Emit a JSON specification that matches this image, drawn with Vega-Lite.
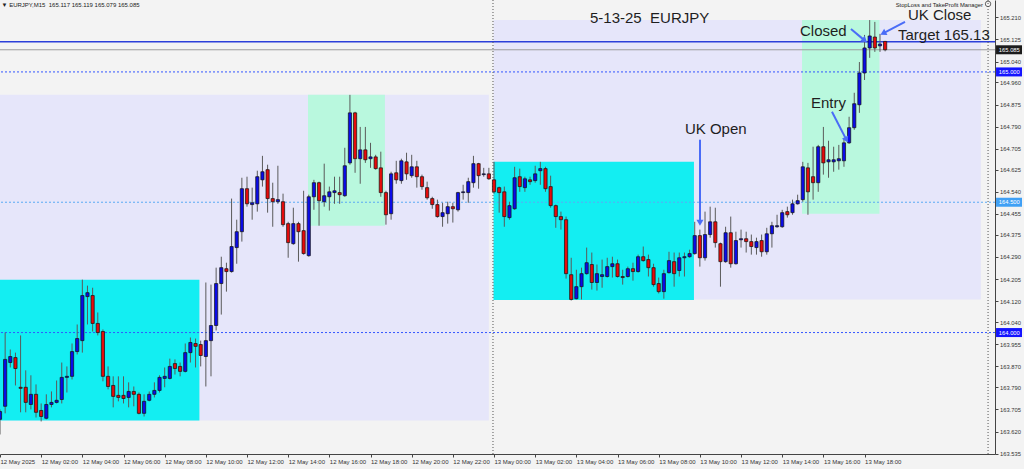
{
"$schema":"https://vega.github.io/schema/vega-lite/v6.json",
"width":995,"height":454,
"autosize":{"type":"none"},
"padding":{"left":0,"top":0,"right":29,"bottom":15},
"background":"#f3f3f3",
"config":{"view":{"stroke":null},"font":"Liberation Sans","scale":{"continuousPadding":0}},
"datasets":{
"zones":[
{"kind":"day","start":0,"end":95,"top":164.912,"bottom":163.663},
{"kind":"day","start":95.9,"end":190.6,"top":165.199,"bottom":164.127},
{"kind":"asia","start":0,"end":38.75,"top":164.203,"bottom":163.663},
{"kind":"asia","start":95.9,"end":134.85,"top":164.655,"bottom":164.125},
{"kind":"ny","start":59.85,"end":74.8,"top":164.912,"bottom":164.410},
{"kind":"ny","start":155.85,"end":170.9,"top":165.199,"bottom":164.456}
],
"candles":[
{"i":0,"o":163.667,"h":163.705,"l":163.609,"c":163.697},
{"i":1,"o":163.717,"h":164.000,"l":163.690,"c":163.897},
{"i":2,"o":163.885,"h":163.935,"l":163.866,"c":163.908},
{"i":3,"o":163.904,"h":163.923,"l":163.797,"c":163.862},
{"i":4,"o":163.790,"h":163.989,"l":163.694,"c":163.786},
{"i":5,"o":163.790,"h":163.855,"l":163.694,"c":163.732},
{"i":6,"o":163.724,"h":163.836,"l":163.705,"c":163.763},
{"i":7,"o":163.763,"h":163.801,"l":163.674,"c":163.694},
{"i":8,"o":163.701,"h":163.728,"l":163.659,"c":163.678},
{"i":9,"o":163.671,"h":163.763,"l":163.667,"c":163.724},
{"i":10,"o":163.724,"h":163.774,"l":163.713,"c":163.732},
{"i":11,"o":163.732,"h":163.816,"l":163.728,"c":163.740},
{"i":12,"o":163.743,"h":163.885,"l":163.728,"c":163.828},
{"i":13,"o":163.828,"h":163.870,"l":163.770,"c":163.832},
{"i":14,"o":163.832,"h":163.958,"l":163.820,"c":163.927},
{"i":15,"o":163.927,"h":164.031,"l":163.916,"c":163.977},
{"i":16,"o":163.969,"h":164.203,"l":163.923,"c":164.142},
{"i":17,"o":164.138,"h":164.180,"l":164.031,"c":164.153},
{"i":18,"o":164.142,"h":164.172,"l":164.004,"c":164.035},
{"i":19,"o":164.035,"h":164.077,"l":163.989,"c":164.000},
{"i":20,"o":164.004,"h":164.012,"l":163.813,"c":163.832},
{"i":21,"o":163.832,"h":163.870,"l":163.782,"c":163.793},
{"i":22,"o":163.797,"h":163.832,"l":163.713,"c":163.755},
{"i":23,"o":163.759,"h":163.832,"l":163.736,"c":163.751},
{"i":24,"o":163.759,"h":163.832,"l":163.728,"c":163.747},
{"i":25,"o":163.751,"h":163.809,"l":163.713,"c":163.774},
{"i":26,"o":163.774,"h":163.793,"l":163.717,"c":163.763},
{"i":27,"o":163.763,"h":163.770,"l":163.686,"c":163.690},
{"i":28,"o":163.690,"h":163.763,"l":163.678,"c":163.736},
{"i":29,"o":163.740,"h":163.774,"l":163.736,"c":163.763},
{"i":30,"o":163.763,"h":163.809,"l":163.751,"c":163.778},
{"i":31,"o":163.778,"h":163.836,"l":163.770,"c":163.828},
{"i":32,"o":163.824,"h":163.866,"l":163.790,"c":163.832},
{"i":33,"o":163.824,"h":163.900,"l":163.820,"c":163.870},
{"i":34,"o":163.881,"h":163.897,"l":163.839,"c":163.862},
{"i":35,"o":163.870,"h":163.885,"l":163.832,"c":163.851},
{"i":36,"o":163.851,"h":163.958,"l":163.847,"c":163.923},
{"i":37,"o":163.923,"h":163.981,"l":163.885,"c":163.962},
{"i":38,"o":163.958,"h":163.977,"l":163.866,"c":163.947},
{"i":39,"o":163.954,"h":163.969,"l":163.870,"c":163.912},
{"i":40,"o":163.908,"h":164.192,"l":163.793,"c":163.969},
{"i":41,"o":163.969,"h":164.184,"l":163.832,"c":164.027},
{"i":42,"o":164.027,"h":164.249,"l":164.008,"c":164.188},
{"i":43,"o":164.188,"h":164.291,"l":164.069,"c":164.249},
{"i":44,"o":164.245,"h":164.268,"l":164.157,"c":164.234},
{"i":45,"o":164.234,"h":164.514,"l":164.230,"c":164.330},
{"i":46,"o":164.326,"h":164.433,"l":164.264,"c":164.387},
{"i":47,"o":164.387,"h":164.594,"l":164.349,"c":164.552},
{"i":48,"o":164.552,"h":164.598,"l":164.483,"c":164.494},
{"i":49,"o":164.491,"h":164.556,"l":164.433,"c":164.498},
{"i":50,"o":164.494,"h":164.621,"l":164.464,"c":164.598},
{"i":51,"o":164.586,"h":164.678,"l":164.560,"c":164.617},
{"i":52,"o":164.625,"h":164.644,"l":164.460,"c":164.514},
{"i":53,"o":164.514,"h":164.575,"l":164.406,"c":164.502},
{"i":54,"o":164.502,"h":164.640,"l":164.494,"c":164.510},
{"i":55,"o":164.502,"h":164.533,"l":164.406,"c":164.414},
{"i":56,"o":164.418,"h":164.425,"l":164.287,"c":164.345},
{"i":57,"o":164.341,"h":164.479,"l":164.337,"c":164.418},
{"i":58,"o":164.418,"h":164.425,"l":164.272,"c":164.387},
{"i":59,"o":164.391,"h":164.544,"l":164.299,"c":164.303},
{"i":60,"o":164.295,"h":164.529,"l":164.291,"c":164.521},
{"i":61,"o":164.521,"h":164.586,"l":164.471,"c":164.575},
{"i":62,"o":164.575,"h":164.579,"l":164.410,"c":164.506},
{"i":63,"o":164.502,"h":164.648,"l":164.483,"c":164.525},
{"i":64,"o":164.521,"h":164.560,"l":164.468,"c":164.540},
{"i":65,"o":164.537,"h":164.598,"l":164.494,"c":164.544},
{"i":66,"o":164.537,"h":164.598,"l":164.494,"c":164.529},
{"i":67,"o":164.525,"h":164.709,"l":164.521,"c":164.640},
{"i":68,"o":164.651,"h":164.912,"l":164.644,"c":164.843},
{"i":69,"o":164.843,"h":164.847,"l":164.613,"c":164.667},
{"i":70,"o":164.667,"h":164.789,"l":164.571,"c":164.701},
{"i":71,"o":164.701,"h":164.789,"l":164.651,"c":164.663},
{"i":72,"o":164.667,"h":164.728,"l":164.632,"c":164.674},
{"i":73,"o":164.674,"h":164.682,"l":164.625,"c":164.629},
{"i":74,"o":164.632,"h":164.694,"l":164.521,"c":164.537},
{"i":75,"o":164.537,"h":164.544,"l":164.414,"c":164.452},
{"i":76,"o":164.456,"h":164.617,"l":164.433,"c":164.609},
{"i":77,"o":164.613,"h":164.659,"l":164.571,"c":164.586},
{"i":78,"o":164.583,"h":164.667,"l":164.571,"c":164.659},
{"i":79,"o":164.655,"h":164.690,"l":164.586,"c":164.609},
{"i":80,"o":164.602,"h":164.682,"l":164.594,"c":164.636},
{"i":81,"o":164.636,"h":164.659,"l":164.556,"c":164.598},
{"i":82,"o":164.598,"h":164.606,"l":164.548,"c":164.560},
{"i":83,"o":164.556,"h":164.579,"l":164.510,"c":164.517},
{"i":84,"o":164.514,"h":164.521,"l":164.475,"c":164.491},
{"i":85,"o":164.491,"h":164.510,"l":164.441,"c":164.445},
{"i":86,"o":164.445,"h":164.498,"l":164.406,"c":164.460},
{"i":87,"o":164.456,"h":164.502,"l":164.418,"c":164.483},
{"i":88,"o":164.483,"h":164.498,"l":164.422,"c":164.475},
{"i":89,"o":164.471,"h":164.540,"l":164.464,"c":164.537},
{"i":90,"o":164.537,"h":164.567,"l":164.510,"c":164.540},
{"i":91,"o":164.537,"h":164.594,"l":164.498,"c":164.579},
{"i":92,"o":164.575,"h":164.678,"l":164.556,"c":164.648},
{"i":93,"o":164.648,"h":164.651,"l":164.552,"c":164.602},
{"i":94,"o":164.606,"h":164.632,"l":164.598,"c":164.609},
{"i":95,"o":164.609,"h":164.632,"l":164.586,"c":164.590},
{"i":96,"o":164.586,"h":164.655,"l":164.533,"c":164.540},
{"i":97,"o":164.556,"h":164.560,"l":164.460,"c":164.537},
{"i":98,"o":164.540,"h":164.560,"l":164.406,"c":164.445},
{"i":99,"o":164.441,"h":164.502,"l":164.433,"c":164.487},
{"i":100,"o":164.475,"h":164.636,"l":164.471,"c":164.594},
{"i":101,"o":164.598,"h":164.629,"l":164.540,"c":164.560},
{"i":102,"o":164.556,"h":164.598,"l":164.540,"c":164.590},
{"i":103,"o":164.586,"h":164.598,"l":164.567,"c":164.579},
{"i":104,"o":164.583,"h":164.640,"l":164.575,"c":164.609},
{"i":105,"o":164.621,"h":164.655,"l":164.567,"c":164.629},
{"i":106,"o":164.629,"h":164.636,"l":164.540,"c":164.552},
{"i":107,"o":164.560,"h":164.602,"l":164.479,"c":164.487},
{"i":108,"o":164.487,"h":164.491,"l":164.402,"c":164.445},
{"i":109,"o":164.445,"h":164.464,"l":164.395,"c":164.433},
{"i":110,"o":164.433,"h":164.445,"l":164.207,"c":164.226},
{"i":111,"o":164.222,"h":164.287,"l":164.123,"c":164.127},
{"i":112,"o":164.130,"h":164.241,"l":164.127,"c":164.176},
{"i":113,"o":164.176,"h":164.249,"l":164.127,"c":164.226},
{"i":114,"o":164.226,"h":164.326,"l":164.222,"c":164.268},
{"i":115,"o":164.261,"h":164.307,"l":164.165,"c":164.192},
{"i":116,"o":164.192,"h":164.261,"l":164.161,"c":164.226},
{"i":117,"o":164.215,"h":164.280,"l":164.172,"c":164.222},
{"i":118,"o":164.215,"h":164.287,"l":164.211,"c":164.253},
{"i":119,"o":164.253,"h":164.291,"l":164.211,"c":164.264},
{"i":120,"o":164.264,"h":164.280,"l":164.211,"c":164.215},
{"i":121,"o":164.215,"h":164.241,"l":164.184,"c":164.211},
{"i":122,"o":164.215,"h":164.253,"l":164.211,"c":164.245},
{"i":123,"o":164.245,"h":164.268,"l":164.199,"c":164.234},
{"i":124,"o":164.234,"h":164.299,"l":164.230,"c":164.291},
{"i":125,"o":164.291,"h":164.330,"l":164.272,"c":164.276},
{"i":126,"o":164.280,"h":164.299,"l":164.215,"c":164.249},
{"i":127,"o":164.249,"h":164.264,"l":164.176,"c":164.184},
{"i":128,"o":164.188,"h":164.211,"l":164.150,"c":164.157},
{"i":129,"o":164.157,"h":164.241,"l":164.130,"c":164.226},
{"i":130,"o":164.230,"h":164.310,"l":164.226,"c":164.276},
{"i":131,"o":164.272,"h":164.307,"l":164.176,"c":164.226},
{"i":132,"o":164.238,"h":164.307,"l":164.215,"c":164.287},
{"i":133,"o":164.287,"h":164.307,"l":164.215,"c":164.291},
{"i":134,"o":164.291,"h":164.318,"l":164.287,"c":164.303},
{"i":135,"o":164.303,"h":164.425,"l":164.299,"c":164.372},
{"i":136,"o":164.372,"h":164.395,"l":164.253,"c":164.287},
{"i":137,"o":164.287,"h":164.464,"l":164.276,"c":164.376},
{"i":138,"o":164.376,"h":164.483,"l":164.364,"c":164.425},
{"i":139,"o":164.425,"h":164.479,"l":164.326,"c":164.345},
{"i":140,"o":164.341,"h":164.345,"l":164.176,"c":164.272},
{"i":141,"o":164.272,"h":164.406,"l":164.268,"c":164.383},
{"i":142,"o":164.383,"h":164.445,"l":164.249,"c":164.264},
{"i":143,"o":164.264,"h":164.387,"l":164.261,"c":164.353},
{"i":144,"o":164.356,"h":164.395,"l":164.326,"c":164.360},
{"i":145,"o":164.360,"h":164.387,"l":164.307,"c":164.349},
{"i":146,"o":164.349,"h":164.376,"l":164.299,"c":164.330},
{"i":147,"o":164.326,"h":164.364,"l":164.299,"c":164.349},
{"i":148,"o":164.353,"h":164.376,"l":164.291,"c":164.310},
{"i":149,"o":164.310,"h":164.402,"l":164.299,"c":164.379},
{"i":150,"o":164.379,"h":164.425,"l":164.326,"c":164.410},
{"i":151,"o":164.406,"h":164.452,"l":164.402,"c":164.410},
{"i":152,"o":164.406,"h":164.471,"l":164.402,"c":164.460},
{"i":153,"o":164.464,"h":164.483,"l":164.441,"c":164.452},
{"i":154,"o":164.460,"h":164.510,"l":164.452,"c":164.494},
{"i":155,"o":164.494,"h":164.529,"l":164.491,"c":164.506},
{"i":156,"o":164.510,"h":164.655,"l":164.502,"c":164.636},
{"i":157,"o":164.632,"h":164.651,"l":164.452,"c":164.540},
{"i":158,"o":164.598,"h":164.713,"l":164.510,"c":164.575},
{"i":159,"o":164.575,"h":164.720,"l":164.540,"c":164.713},
{"i":160,"o":164.713,"h":164.789,"l":164.606,"c":164.651},
{"i":161,"o":164.655,"h":164.736,"l":164.594,"c":164.663},
{"i":162,"o":164.655,"h":164.713,"l":164.617,"c":164.663},
{"i":163,"o":164.659,"h":164.720,"l":164.625,"c":164.667},
{"i":164,"o":164.659,"h":164.747,"l":164.636,"c":164.728},
{"i":165,"o":164.728,"h":164.828,"l":164.724,"c":164.786},
{"i":166,"o":164.786,"h":164.920,"l":164.778,"c":164.878},
{"i":167,"o":164.874,"h":165.038,"l":164.843,"c":164.996},
{"i":168,"o":164.996,"h":165.142,"l":164.969,"c":165.092},
{"i":169,"o":165.092,"h":165.199,"l":165.054,"c":165.138},
{"i":170,"o":165.134,"h":165.192,"l":165.077,"c":165.092},
{"i":171,"o":165.100,"h":165.146,"l":165.077,"c":165.107},
{"i":172,"o":165.117,"h":165.119,"l":165.079,"c":165.085}
],
"levels":[
{"p":165.085,"kind":"bid"},
{"p":165.000,"kind":"round"},
{"p":164.500,"kind":"half"},
{"p":164.000,"kind":"round"}
],
"arrows":[
{"name":"UK Open","i":136.02,"p":164.740,"i2":136.02,"p2":164.425},
{"name":"Entry","i":161.67,"p":164.847,"i2":164.39,"p2":164.743},
{"name":"Closed","i":165.36,"p":165.165,"i2":167.89,"p2":165.123},
{"name":"UK Close","i":175.86,"p":165.192,"i2":171.78,"p2":165.150}
],
"notes":[
{"text":"5-13-25 \u00a0EURJPY","i":114.65,"p":165.188},
{"text":"Closed","i":155.45,"p":165.138},
{"text":"UK Close","i":176.44,"p":165.199},
{"text":"Target 165.13","i":174.5,"p":165.123},
{"text":"Entry","i":157.6,"p":164.862},
{"text":"UK Open","i":133.1,"p":164.763}
]
},
"layer":[
{"data":{"name":"zones"},"mark":{"type":"rect"},
 "encoding":{
  "x":{"field":"start","type":"quantitative","scale":{"domain":[0,193.35],"nice":false,"zero":false,"padding":0}},
  "x2":{"field":"end"},
  "y":{"field":"top","type":"quantitative","scale":{"domain":[163.534,165.276],"nice":false,"zero":false,"padding":0}},
  "y2":{"field":"bottom"},
  "color":{"field":"kind","type":"nominal","scale":{"domain":["day","asia","ny"],"range":["#e6e6fa","#13eef2","#b9f8de"]},"legend":null}}},
{"data":{"name":"levels"},"transform":[{"filter":"datum.kind == 'round'"}],
 "mark":{"type":"rule","color":"#3355ff","strokeDash":[2,2],"strokeWidth":1},
 "encoding":{"y":{"field":"p","type":"quantitative"}}},
{"data":{"name":"levels"},"transform":[{"filter":"datum.kind == 'half'"}],
 "mark":{"type":"rule","color":"#5aaaf5","strokeDash":[2,2],"strokeWidth":1},
 "encoding":{"y":{"field":"p","type":"quantitative"}}},
{"data":{"name":"levels"},"transform":[{"filter":"datum.kind == 'bid'"}],
 "mark":{"type":"rule","color":"#9c9c9c","strokeWidth":1},
 "encoding":{"y":{"field":"p","type":"quantitative"}}},
{"data":{"values":[{"p":165.116}]},
 "mark":{"type":"rule","color":"#2b3fd9","strokeWidth":1.5},
 "encoding":{"y":{"field":"p","type":"quantitative"}}},
{"data":{"values":[{"i":95.8},{"i":192.0}]},
 "mark":{"type":"rule","color":"#555555","strokeDash":[1,2],"strokeWidth":1},
 "encoding":{"x":{"field":"i","type":"quantitative"}}},
{"data":{"name":"candles"},
 "mark":{"type":"rule","color":"#5a5a5a","strokeWidth":1},
 "encoding":{
  "x":{"field":"i","type":"quantitative","scale":{"domain":[0,193.35],"nice":false,"zero":false,"padding":0},
   "axis":{"title":null,"grid":false,"tickCount":40,"values":[0,8,16,24,32,40,48,56,64,72,80,88,96,104,112,120,128,136,144,152,160,168],
    "labelExpr":"datum.value == 0 ? '12 May 2025' : (datum.value < 96 ? '12 May ' : '13 May ') + (floor((datum.value % 96) / 4) < 10 ? '0' : '') + floor((datum.value % 96) / 4) + ':00'",
    "labelAlign":"left","labelBaseline":"top","labelPadding":1,"labelFontSize":6,"labelColor":"#333333","labelOverlap":false,"labelFlush":false,"labelBound":false,
    "tickSize":3,"tickColor":"#444444","domainColor":"#444444","domainWidth":1}},
  "y":{"field":"l","type":"quantitative","scale":{"domain":[163.534,165.276],"nice":false,"zero":false,"padding":0},
   "axis":{"title":null,"grid":false,"orient":"right","format":".3f","tickCount":40,
    "values":[163.535,163.62,163.705,163.79,163.87,163.955,164.04,164.12,164.205,164.29,164.375,164.455,164.54,164.625,164.705,164.79,164.875,164.96,165.04,165.125,165.21],
    "labelFontSize":5.8,"labelColor":"#333333","labelPadding":1.5,"labelOverlap":false,"labelFlush":false,"labelBaseline":"middle",
    "tickSize":3,"tickColor":"#444444","domainColor":"#444444","domainWidth":1}},
  "y2":{"field":"h"}}},
{"data":{"name":"candles"},
 "mark":{"type":"bar","size":3.2,"stroke":"#111111","strokeWidth":0.7},
 "encoding":{
  "x":{"field":"i","type":"quantitative"},
  "y":{"field":"o","type":"quantitative"},
  "y2":{"field":"c"},
  "fill":{"condition":{"test":"datum.c >= datum.o","value":"#0b0be8"},"value":"#e60b0b"}}},
{"data":{"name":"levels"},
 "mark":{"type":"rect","yOffset":-4.5,"y2Offset":4.5},
 "encoding":{
  "x":{"datum":193.55,"type":"quantitative"},
  "x2":{"datum":198.6},
  "y":{"field":"p","type":"quantitative"},
  "y2":{"field":"p"},
  "fill":{"field":"kind","type":"nominal","scale":{"domain":["bid","round","half"],"range":["#1c1c1c","#1414ff","#3fa0f5"]},"legend":null}}},
{"data":{"name":"levels"},
 "mark":{"type":"text","align":"left","baseline":"middle","fontSize":5.8,"color":"#ffffff"},
 "encoding":{
  "x":{"datum":194.1,"type":"quantitative"},
  "y":{"field":"p","type":"quantitative"},
  "text":{"field":"p","type":"quantitative","format":".3f"}}},
{"data":{"name":"arrows"},
 "mark":{"type":"rule","color":"#4a6cf7","strokeWidth":2},
 "encoding":{
  "x":{"field":"i","type":"quantitative"},"x2":{"field":"i2"},
  "y":{"field":"p","type":"quantitative"},"y2":{"field":"p2"}}},
{"data":{"name":"arrows"},"transform":[{"filter":"datum.name == 'UK Open'"}],
 "mark":{"type":"point","shape":"triangle","filled":true,"size":50,"color":"#4a6cf7","opacity":1},
 "encoding":{"x":{"field":"i2","type":"quantitative"},"y":{"field":"p2","type":"quantitative"},"angle":{"value":180}}},
{"data":{"name":"arrows"},"transform":[{"filter":"datum.name == 'Entry'"}],
 "mark":{"type":"point","shape":"triangle","filled":true,"size":50,"color":"#4a6cf7","opacity":1},
 "encoding":{"x":{"field":"i2","type":"quantitative"},"y":{"field":"p2","type":"quantitative"},"angle":{"value":152}}},
{"data":{"name":"arrows"},"transform":[{"filter":"datum.name == 'Closed'"}],
 "mark":{"type":"point","shape":"triangle","filled":true,"size":50,"color":"#4a6cf7","opacity":1},
 "encoding":{"x":{"field":"i2","type":"quantitative"},"y":{"field":"p2","type":"quantitative"},"angle":{"value":130}}},
{"data":{"name":"arrows"},"transform":[{"filter":"datum.name == 'UK Close'"}],
 "mark":{"type":"point","shape":"triangle","filled":true,"size":50,"color":"#4a6cf7","opacity":1},
 "encoding":{"x":{"field":"i2","type":"quantitative"},"y":{"field":"p2","type":"quantitative"},"angle":{"value":242}}},
{"data":{"name":"notes"},
 "mark":{"type":"text","align":"left","baseline":"alphabetic","fontSize":15,"color":"#1e1e1e"},
 "encoding":{"x":{"field":"i","type":"quantitative"},"y":{"field":"p","type":"quantitative"},"text":{"field":"text"}}},
{"data":{"values":[{"text":"\u25bc EURJPY,M15 \u00a0165.117 165.119 165.079 165.085","i":0.3,"p":165.251}]},
 "mark":{"type":"text","align":"left","baseline":"alphabetic","fontSize":6,"color":"#222222"},
 "encoding":{"x":{"field":"i","type":"quantitative"},"y":{"field":"p","type":"quantitative"},"text":{"field":"text"}}},
{"data":{"values":[{"text":"StopLoss and TakeProfit Manager","i":191.0,"p":165.251}]},
 "mark":{"type":"text","align":"right","baseline":"alphabetic","fontSize":5.8,"color":"#222222"},
 "encoding":{"x":{"field":"i","type":"quantitative"},"y":{"field":"p","type":"quantitative"},"text":{"field":"text"}}},
{"data":{"values":[{"i":192.0,"p":165.261}]},
 "mark":{"type":"point","shape":"circle","size":30,"filled":false,"color":"#444444","strokeWidth":0.8,"opacity":1},
 "encoding":{"x":{"field":"i","type":"quantitative"},"y":{"field":"p","type":"quantitative"}}}
]
}
